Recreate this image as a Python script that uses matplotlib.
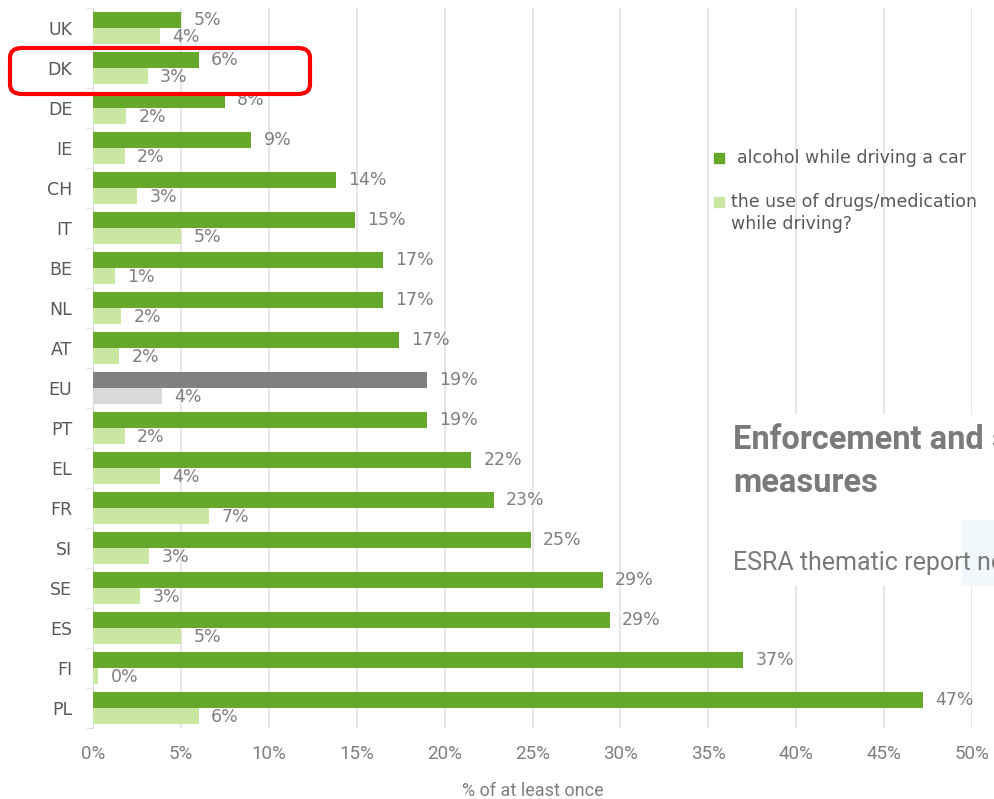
import matplotlib.pyplot as plt
import numpy as np
from matplotlib.patches import FancyBboxPatch, Rectangle

plt.rcParams['font.family'] = ['DejaVu Sans']

countries = ['UK', 'DK', 'DE', 'IE', 'CH', 'IT', 'BE', 'NL', 'AT', 'EU',
             'PT', 'EL', 'FR', 'SI', 'SE', 'ES', 'FI', 'PL']
alcohol = [5.0, 6.0, 7.5, 9.0, 13.8, 14.9, 16.5, 16.5, 17.4, 19.0,
           19.0, 21.5, 22.8, 24.9, 29.0, 29.4, 37.0, 47.2]
drugs = [3.8, 3.1, 1.9, 1.8, 2.5, 5.0, 1.25, 1.6, 1.5, 3.9,
         1.8, 3.8, 6.6, 3.2, 2.7, 5.0, 0.3, 6.0]
alcohol_lbl = ['5%', '6%', '8%', '9%', '14%', '15%', '17%', '17%', '17%', '19%',
               '19%', '22%', '23%', '25%', '29%', '29%', '37%', '47%']
drugs_lbl = ['4%', '3%', '2%', '2%', '3%', '5%', '1%', '2%', '2%', '4%',
             '2%', '4%', '7%', '3%', '3%', '5%', '0%', '6%']
legend_labels = ['alcohol while driving a car',
                 'the use of drugs/medication\nwhile driving?']
xticks = [0, 5, 10, 15, 20, 25, 30, 35, 40, 45, 50]

dark = '#66a82a'
light = '#c9e6a3'
grey_txt = '#7f7f7f'

fig = plt.figure(figsize=(9.95, 7.99), dpi=100)
ax = fig.add_axes([0.0935, 0.089, 0.8834, 0.901])

y = np.arange(len(countries))
h = 0.4
c1 = [('#808080' if c == 'EU' else dark) for c in countries]
c2 = [('#d9d9d9' if c == 'EU' else light) for c in countries]
ax.barh(y - h / 2, alcohol, height=h, color=c1, zorder=3)
ax.barh(y + h / 2, drugs, height=h, color=c2, zorder=3)

for i in range(len(countries)):
    ax.text(alcohol[i] + 0.7, y[i] - h / 2, alcohol_lbl[i], va='center',
            ha='left', fontsize=12.5, color=grey_txt, zorder=4)
    ax.text(drugs[i] + 0.7, y[i] + h / 2 + 0.02, drugs_lbl[i], va='center',
            ha='left', fontsize=12.5, color=grey_txt, zorder=4)

ax.set_ylim(len(countries) - 0.5, -0.5)
ax.set_xlim(0, 50)
ax.set_yticks(y)
ax.set_yticklabels(countries, fontsize=12.5, color='#595959')
ax.set_yticks(np.arange(len(countries) + 1) - 0.5, minor=True)
ax.tick_params(axis='y', which='major', length=0, pad=15)
ax.tick_params(axis='y', which='minor', length=5, color='#d9d9d9')
ax.set_xticks(xticks)
ax.set_xticklabels([f'{v}%' for v in xticks], fontsize=13.5, color=grey_txt,
                   family='Roboto')
ax.tick_params(axis='x', length=0, pad=12)
ax.xaxis.grid(True, color='#e3e3e3', linewidth=1.2, zorder=0)
ax.set_axisbelow(True)
for s in ['top', 'right', 'bottom']:
    ax.spines[s].set_visible(False)
ax.spines['left'].set_color('#d9d9d9')
ax.set_xlabel('% of at least once', fontsize=13, color=grey_txt, labelpad=14,
              family='Roboto')

# legend
fig.patches.append(Rectangle((714 / 995, 1 - 163 / 799), 10 / 995, 10 / 799,
                             transform=fig.transFigure, color=dark, zorder=5))
fig.text(737 / 995, 1 - 158 / 799, legend_labels[0], fontsize=12.5,
         color='#595959', va='center')
fig.patches.append(Rectangle((714 / 995, 1 - 207 / 799), 10 / 995, 10 / 799,
                             transform=fig.transFigure, color=light, zorder=5))
fig.text(731 / 995, 1 - 213 / 799, legend_labels[1], fontsize=12.5,
         color='#595959', va='center', linespacing=1.35)

# overlaid report title box
fig.patches.append(Rectangle((718 / 995, 1 - 585 / 799), 277 / 995, 170 / 799,
                             transform=fig.transFigure, color='white', zorder=6))
fig.patches.append(Rectangle((962 / 995, 1 - 585 / 799), 33 / 995, 65 / 799,
                             transform=fig.transFigure, color='#f1f8f9', zorder=6))
fig.text(733 / 995, 1 - 461 / 799, 'Enforcement and support\nmeasures',
         fontsize=23.5, fontweight='bold', color='#7a7a7a', va='center',
         family='Roboto', linespacing=1.45, zorder=7)
fig.text(733 / 995, 1 - 563 / 799, 'ESRA thematic report no. 6', fontsize=18,
         color='#7a7a7a', va='center', family='Roboto', zorder=7)

# highlight box
fig.patches.append(FancyBboxPatch((10 / 995, 1 - 94 / 799), 300 / 995, 46 / 799,
                                  boxstyle='round,pad=0,rounding_size=0.012',
                                  transform=fig.transFigure, fill=False,
                                  edgecolor='#ff0000', linewidth=3, zorder=8))

fig.savefig('out.png', dpi=100)
